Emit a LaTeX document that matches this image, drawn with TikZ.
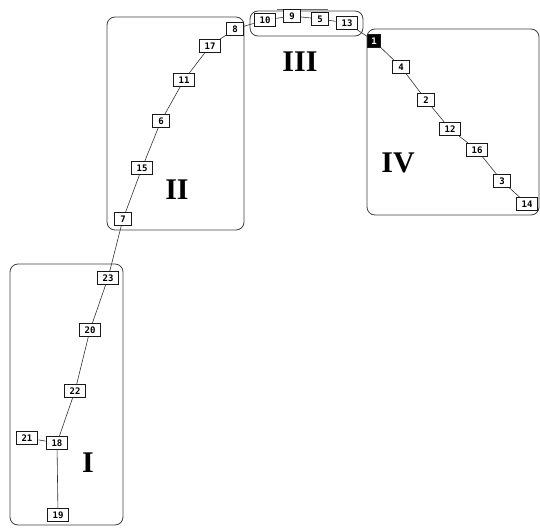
\documentclass[tikz,border=0pt]{standalone}
\usepackage{fontspec}
\setmainfont{Liberation Serif}
\newfontfamily\nodefont{DejaVu Sans Mono}
\begin{document}
\begin{tikzpicture}[x=1pt,y=-1pt,
  nd/.style={draw=black!90,fill=white,line width=0.9pt,font=\nodefont\bfseries\fontsize{9}{9}\selectfont,inner xsep=5.5pt,inner ysep=0pt,minimum height=13pt,minimum width=15pt},
  ndk/.style={nd,fill=black,text=white,minimum width=13pt,inner xsep=3pt},
  grp/.style={draw=black!75,line width=0.8pt,rounded corners=8pt},
  lbl/.style={font=\bfseries\fontsize{30}{30}\selectfont},
  ed/.style={draw=black!80,line width=0.6pt}]
\useasboundingbox (0,0) rectangle (540,527);
% groups
\draw[grp] (10,264) rectangle (123,525);
\draw[grp] (107,17) rectangle (244,230);
\draw[grp] (250,11) rectangle (363,36);
\draw[grp] (367,29) rectangle (539,215);
\draw[draw=black!60,line width=0.6pt] (277,9) -- (328,9);
% labels
\node[lbl] (LI) at (88,463) {I};
\node[lbl] (LII) at (177,190) {II};
\node[lbl] (LIII) at (300,62) {III};
\node[lbl] (LIV) at (398,163) {IV};
% nodes
\node[nd] (n19) at (58,515) {19};
\node[nd] (n18) at (57,443) {18};
\node[nd] (n21) at (27,438) {21};
\node[nd] (n22) at (75,391) {22};
\node[nd] (n20) at (90,330) {20};
\node[nd] (n23) at (108,278) {23};
\node[nd] (n7) at (123,219) {7};
\node[nd] (n15) at (142,168) {15};
\node[nd] (n6) at (161,121) {6};
\node[nd] (n11) at (184,80) {11};
\node[nd] (n17) at (210,46) {17};
\node[nd] (n8) at (235,29) {8};
\node[nd] (n10) at (265,20) {10};
\node[nd] (n9) at (292,16) {9};
\node[nd] (n5) at (320,19) {5};
\node[nd] (n13) at (347,23) {13};
\node[ndk] (n1) at (374,41) {1};
\node[nd] (n4) at (401,67) {4};
\node[nd] (n2) at (426,100) {2};
\node[nd] (n12) at (450,129) {12};
\node[nd] (n16) at (477,150) {16};
\node[nd] (n3) at (502,181) {3};
\node[nd] (n14) at (527,204) {14};
% edges
\draw[ed] (n19) -- (n18);
\draw[ed] (n18) -- (n21);
\draw[ed] (n18) -- (n22);
\draw[ed] (n22) -- (n20);
\draw[ed] (n20) -- (n23);
\draw[ed] (n23) -- (n7);
\draw[ed] (n7) -- (n15);
\draw[ed] (n15) -- (n6);
\draw[ed] (n6) -- (n11);
\draw[ed] (n11) -- (n17);
\draw[ed] (n17) -- (n8);
\draw[ed] (n8) -- (n10);
\draw[ed] (n10) -- (n9);
\draw[ed] (n9) -- (n5);
\draw[ed] (n5) -- (n13);
\draw[ed] (n13) -- (n1);
\draw[ed] (n1) -- (n4);
\draw[ed] (n4) -- (n2);
\draw[ed] (n2) -- (n12);
\draw[ed] (n12) -- (n16);
\draw[ed] (n16) -- (n3);
\draw[ed] (n3) -- (n14);
\end{tikzpicture}
\end{document}
